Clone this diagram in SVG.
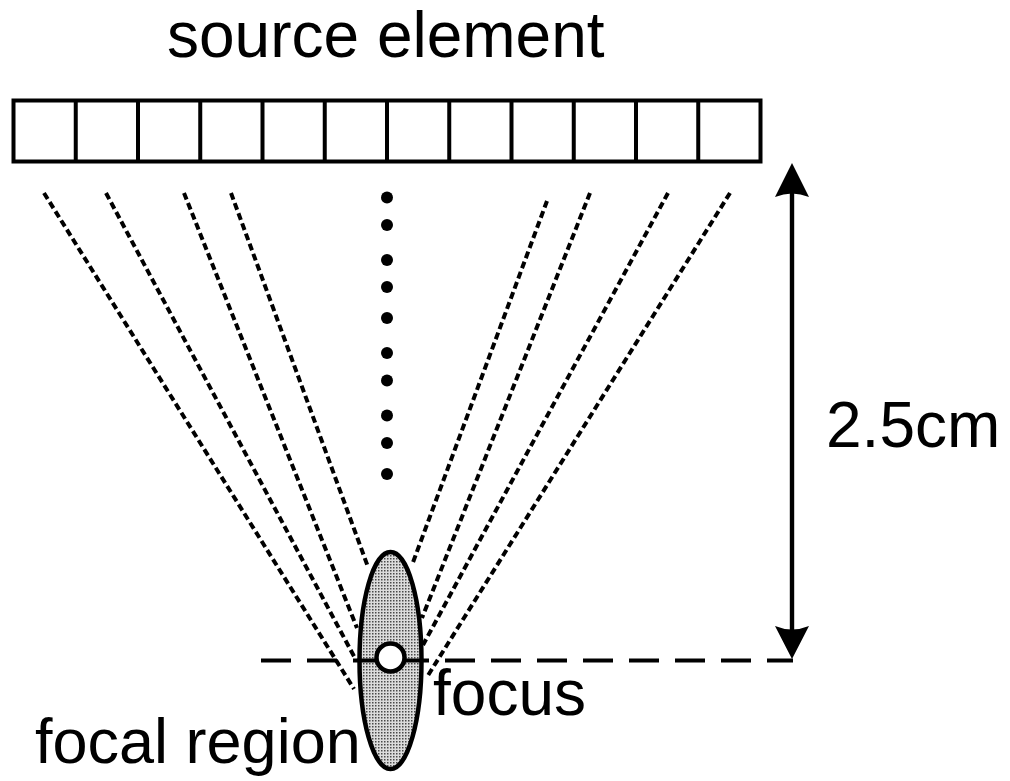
<svg xmlns="http://www.w3.org/2000/svg" width="1010" height="781" viewBox="0 0 1010 781">
<style>
text{font-family:"Liberation Sans",Arial,sans-serif;fill:#000}
.lbl{font-size:64px}
.c{fill:#fff;stroke:#000;stroke-width:4}
.ray{fill:none;stroke:#000;stroke-width:4;stroke-dasharray:7 3.8}
.dot{fill:#000}
</style>
<defs>
<pattern id="stip" width="3" height="3" patternUnits="userSpaceOnUse"><rect width="3" height="3" fill="#dcdcdc"/><rect width="1.5" height="1.5" fill="#4a4a4a"/></pattern>
</defs>
<rect width="1010" height="781" fill="#fff"/>
<g id="title"><text class="lbl" x="167" y="57">source element</text></g>
<g id="source-array">
<rect class="c" x="13.5" y="100.5" width="747" height="61"/>
<path d="M75.75 100.5V161.5M138 100.5V161.5M200.25 100.5V161.5M262.5 100.5V161.5M324.75 100.5V161.5M387 100.5V161.5M449.25 100.5V161.5M511.5 100.5V161.5M573.75 100.5V161.5M636 100.5V161.5M698.25 100.5V161.5" fill="none" stroke="#000" stroke-width="4"/>
</g>
<g id="rays">
<path class="ray" d="M44 193L354 689"/>
<path class="ray" d="M106 193L356 660"/>
<path class="ray" d="M184 193L357 628"/>
<path class="ray" d="M231 193L368 567"/>
<path class="ray" d="M547 201L412 565"/>
<path class="ray" d="M590 193L422 618"/>
<path class="ray" d="M668 193L423 645"/>
<path class="ray" d="M730 193L427 677"/>
</g>
<g id="dots">
<circle class="dot" cx="387" cy="197.5" r="6"/>
<circle class="dot" cx="387" cy="225" r="6"/>
<circle class="dot" cx="387" cy="260" r="6"/>
<circle class="dot" cx="387" cy="287" r="6"/>
<circle class="dot" cx="387" cy="318" r="6"/>
<circle class="dot" cx="387" cy="353" r="6"/>
<circle class="dot" cx="387" cy="380.5" r="6"/>
<circle class="dot" cx="387" cy="415.5" r="6"/>
<circle class="dot" cx="387" cy="443" r="6"/>
<circle class="dot" cx="387" cy="474" r="6"/>
</g>
<g id="focal-region"><ellipse cx="390.5" cy="660.5" rx="31" ry="108.5" fill="url(#stip)" stroke="#000" stroke-width="4.5"/></g>
<g id="focal-plane"><path d="M261 660.5H793" fill="none" stroke="#000" stroke-width="4" stroke-dasharray="30 16"/></g>
<g id="focus-point"><circle cx="390.5" cy="657.5" r="14" fill="#fff" stroke="#000" stroke-width="4.5"/></g>
<g id="distance-arrow">
<path d="M792 190V635" fill="none" stroke="#000" stroke-width="4.4"/>
<path d="M792 163L809 197Q792 190 775 197Z" fill="#000"/>
<path d="M792 659L809 626Q792 633 775 626Z" fill="#000"/>
</g>
<g id="label-distance"><text class="lbl" x="826" y="447">2.5cm</text></g>
<g id="label-focus"><text class="lbl" x="433" y="715">focus</text></g>
<g id="label-region"><text x="35" y="763" font-size="63">focal region</text></g>
</svg>
